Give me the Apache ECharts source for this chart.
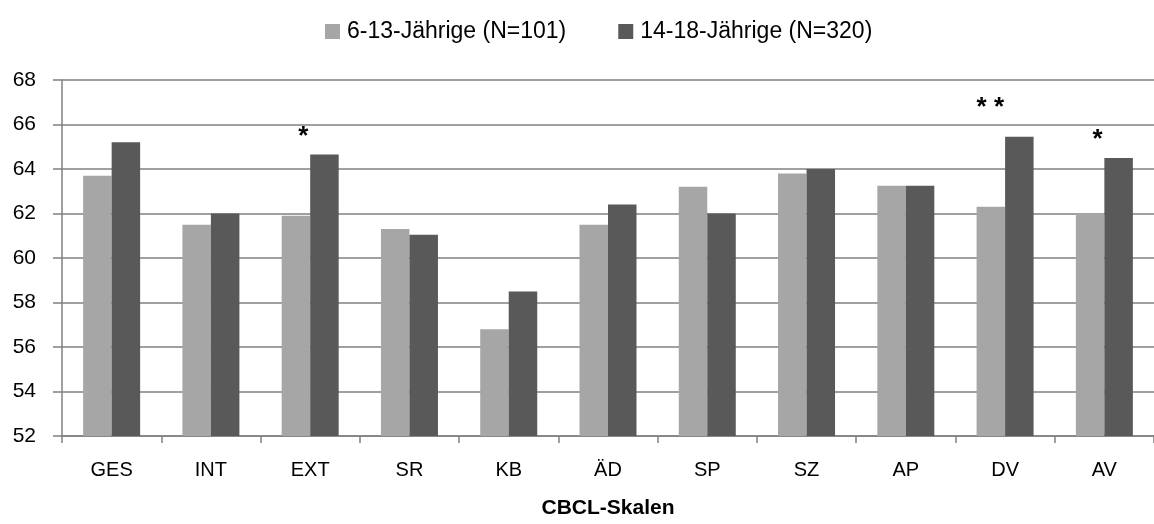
<!DOCTYPE html>
<html>
<head>
<meta charset="utf-8">
<script src="https://cdn.jsdelivr.net/npm/echarts@6/dist/echarts.min.js"></script>
<style>
  html, body { margin: 0; padding: 0; background: #fff; }
  #chart { width: 1154px; height: 524px; }
</style>
</head>
<body>
<div id="chart"></div>
<script>
// CBCL scales
var skalen = ['GES', 'INT', 'EXT', 'SR', 'KB', 'ÄD', 'SP', 'SZ', 'AP', 'DV', 'AV'];
var jung = [63.7, 61.5, 61.9, 61.3, 56.8, 61.5, 63.2, 63.8, 63.25, 62.3, 62.0];   // 6-13
var alt = [65.2, 62.0, 64.65, 61.05, 58.5, 62.4, 62.0, 64.0, 63.25, 65.45, 64.5]; // 14-18
var signifikanz = ['', '', '*', '', '', '', '', '', '', '**', '*'];
var yTicks = [52, 54, 56, 58, 60, 62, 64, 66, 68];

var font = 'Liberation Sans, Arial, sans-serif';
var chart = echarts.init(document.getElementById('chart'));

// label offsets for the star markers (placed by hand in the original)
var starOffset = { '*': [-21, -5], '**': [-29, -16] };

var altData = alt.map(function (v, i) {
  var s = signifikanz[i];
  if (!s) return v;
  return {
    value: v,
    label: {
      show: true,
      position: 'top',
      distance: 0,
      formatter: s.split('').join(' '),
      offset: starOffset[s],
      fontSize: 26,
      fontWeight: 'bold',
      color: '#000',
      fontFamily: font
    }
  };
});

var option = {
  animation: false,
  legend: {
    left: 320,
    top: 15,
    itemWidth: 15,
    itemHeight: 15,
    itemGap: 52,
    icon: 'rect',
    data: ['6-13-Jährige (N=101)', '14-18-Jährige (N=320)'],
    textStyle: { fontSize: 23, fontFamily: font, color: '#000', padding: [0, 0, 0, 2] }
  },
  grid: { left: 62, right: -4, top: 80, bottom: 85 },
  xAxis: {
    type: 'category',
    data: skalen,
    name: 'CBCL-Skalen',
    nameLocation: 'middle',
    nameGap: 62,
    nameTextStyle: { fontSize: 21, fontWeight: 'bold', fontFamily: font, color: '#000' },
    axisLine: { lineStyle: { color: '#808080', width: 1.5 } },
    axisTick: { show: true, interval: 0, length: 7, lineStyle: { color: '#808080', width: 1.5 } },
    axisLabel: { fontSize: 20, fontFamily: font, color: '#000', margin: 24, interval: 0 }
  },
  yAxis: {
    type: 'value',
    min: yTicks[0],
    max: yTicks[yTicks.length - 1],
    interval: 2,
    axisLine: { show: true, lineStyle: { color: '#808080', width: 1.5 } },
    axisTick: { show: true, length: 9, lineStyle: { color: '#808080', width: 1.5 } },
    axisLabel: { fontSize: 21, fontFamily: font, color: '#000', margin: 26 },
    splitLine: { lineStyle: { color: '#808080', width: 1.5 } }
  },
  series: [
    {
      name: '6-13-Jährige (N=101)',
      type: 'bar',
      data: jung,
      barWidth: 28.5,
      barGap: '0%',
      itemStyle: { color: '#a6a6a6' }
    },
    {
      name: '14-18-Jährige (N=320)',
      type: 'bar',
      data: altData,
      barWidth: 28.5,
      barGap: '0%',
      itemStyle: { color: '#595959' }
    }
  ]
};

chart.setOption(option);
</script>
</body>
</html>
